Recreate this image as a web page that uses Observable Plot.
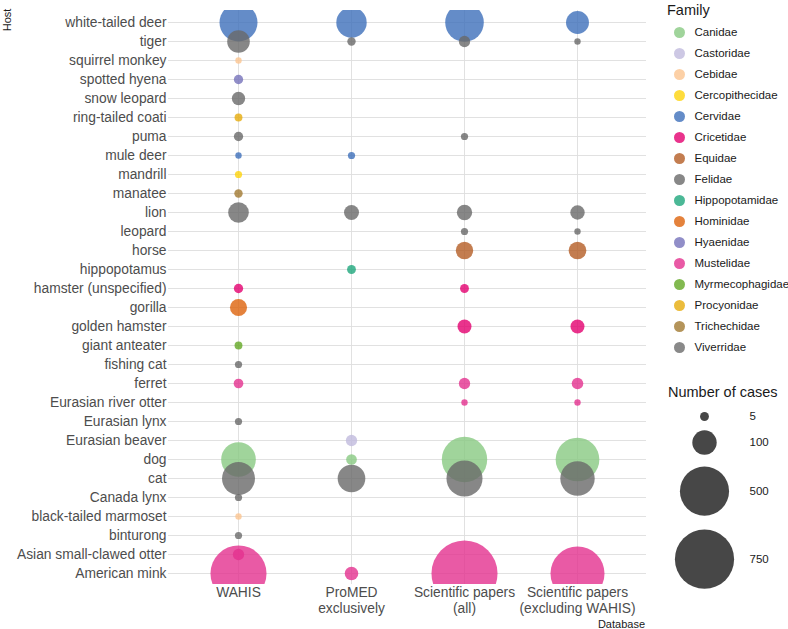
<!DOCTYPE html>
<html>
<head>
<meta charset="utf-8">
<script src="https://cdn.jsdelivr.net/npm/d3@7"></script>
<script src="https://cdn.jsdelivr.net/npm/@observablehq/plot@0.6"></script>
<style>
  html, body { margin: 0; padding: 0; background: white; }
  #wrap { position: relative; width: 788px; height: 629px; overflow: hidden; font-family: 'Liberation Sans', Arial, sans-serif; }
  .abs { position: absolute; line-height: 1; white-space: nowrap; }
</style>
</head>
<body>
<div id="wrap"></div>
<script>
// ---------- data ----------
const hosts = ["white-tailed deer","tiger","squirrel monkey","spotted hyena","snow leopard","ring-tailed coati","puma","mule deer","mandrill","manatee","lion","leopard","horse","hippopotamus","hamster (unspecified)","gorilla","golden hamster","giant anteater","fishing cat","ferret","Eurasian river otter","Eurasian lynx","Eurasian beaver","dog","cat","Canada lynx","black-tailed marmoset","binturong","Asian small-clawed otter","American mink"];
const hostFamily = ["Cervidae","Felidae","Cebidae","Hyaenidae","Felidae","Procyonidae","Felidae","Cervidae","Cercopithecidae","Trichechidae","Felidae","Felidae","Equidae","Hippopotamidae","Cricetidae","Hominidae","Cricetidae","Myrmecophagidae","Felidae","Mustelidae","Mustelidae","Felidae","Castoridae","Canidae","Felidae","Felidae","Cebidae","Viverridae","Mustelidae","Mustelidae"];
const databases = ["WAHIS","ProMED exclusively","Scientific papers (all)","Scientific papers (excluding WAHIS)"];
const databaseLabels = ["WAHIS","ProMED\nexclusively","Scientific papers\n(all)","Scientific papers\n(excluding WAHIS)"];
// cases per host (same order as hosts); null = no record
const wahis    = [282,83,1,6,20,3,6,1,2,4,66,null,null,null,6,40,null,3,2,7,null,2,null,229,204,2,1,2,12,666];
const promed   = [169,4,null,null,null,null,null,2,null,null,28,null,null,5,null,null,null,null,null,null,null,null,12,10,135,null,null,null,null,21];
const sciAll   = [292,12,null,null,null,null,2,null,null,null,30,2,42,null,5,null,23,null,null,12,1,null,null,420,250,null,null,null,null,949];
const sciExcl  = [86,1,null,null,null,null,null,null,null,null,25,1,44,null,null,null,23,null,null,13,1,null,null,386,225,null,null,null,null,615];
const families = ["Canidae","Castoridae","Cebidae","Cercopithecidae","Cervidae","Cricetidae","Equidae","Felidae","Hippopotamidae","Hominidae","Hyaenidae","Mustelidae","Myrmecophagidae","Procyonidae","Trichechidae","Viverridae"];
const familyColors = ["#88C982","#C1BADD","#FBC490","#FED30B","#3D6FBA","#E4006F","#B45C24","#696969","#1EA67C","#DD630B","#7672BA","#E4318E","#63A724","#E6AB0B","#A17931","#6B6B6B"];
const sizeBreaks = [5,100,500,750];

// ---------- table ----------
const series = [wahis, promed, sciAll, sciExcl];
let rows = [];
series.forEach((vals, j) => vals.forEach((n, i) => {
  if (n != null) rows.push({host: hosts[i], family: hostFamily[i], db: databases[j], n});
}));
rows = d3.sort(rows, d => -d.n);

const font = "'Liberation Sans', Arial, sans-serif";
const rScale = {type: "sqrt", domain: [1, 750], range: [3.2, 29.6]};
const colorScale = {domain: families, range: familyColors};

const chart = Plot.plot({
  width: 660, height: 629,
  marginLeft: 168, marginRight: 14, marginTop: 10, marginBottom: 45,
  style: {fontFamily: font, fontSize: "13.8px", color: "#4d4d4d", background: "white", overflow: "visible"},
  x: {type: "point", domain: databases, padding: 0.6, label: null},
  y: {type: "point", domain: hosts, padding: 0.6, label: null},
  r: rScale,
  color: colorScale,
  marks: [
    Plot.gridY({stroke: "#dedede", strokeOpacity: 1, strokeWidth: 0.9}),
    Plot.gridX({stroke: "#dedede", strokeOpacity: 1, strokeWidth: 0.9}),
    Plot.axisY({tickSize: 0, tickPadding: 2, fontSize: 13.8, label: null, fill: "#4d4d4d"}),
    Plot.axisX({tickSize: 0, tickPadding: 2, fontSize: 13.8, label: null, fill: "#4d4d4d", lineHeight: 1.12,
      tickFormat: d => databaseLabels[databases.indexOf(d)]}),
    Plot.dot(rows, {x: "db", y: "host", r: "n", fill: "family", fillOpacity: 0.8, clip: true})
  ]
});

const wrap = document.getElementById("wrap");
chart.style.position = "absolute";
chart.style.left = "0px";
chart.style.top = "0px";
wrap.appendChild(chart);

// ---------- family legend ----------
const famLegend = Plot.plot({
  width: 133, height: 360,
  marginTop: 31, marginBottom: 12, marginLeft: 24, marginRight: 9,
  style: {fontFamily: font, background: "transparent", overflow: "visible"},
  x: {domain: [0, 1], axis: null},
  y: {type: "point", domain: families, padding: 0, axis: null},
  color: colorScale,
  marks: [
    Plot.dot(families, {x: () => 0, y: d => d, fill: d => d, r: 5.5, fillOpacity: 0.8}),
    Plot.text(families, {x: () => 0, y: d => d, text: d => d, dx: 15, textAnchor: "start", fontSize: 11.5, fill: "#1a1a1a"})
  ]
});
famLegend.style.position = "absolute";
famLegend.style.left = "655px";
famLegend.style.top = "0px";
wrap.appendChild(famLegend);

// ---------- size legend ----------
const rs = chart.scale("r");
const keyY = [];
sizeBreaks.forEach((v, i) => {
  if (i === 0) keyY.push(16);
  else keyY.push(keyY[i - 1] + 1.12 * (rs.apply(sizeBreaks[i - 1]) + rs.apply(v)) + 7.4);
});
const sizeRows = sizeBreaks.map((v, i) => ({v, y: keyY[i]}));
const sizeLegend = Plot.plot({
  width: 133, height: 229,
  marginTop: 0, marginBottom: 0, marginLeft: 49, marginRight: 0,
  style: {fontFamily: font, background: "transparent", overflow: "visible"},
  x: {domain: [0, 1], range: [49, 133], axis: null},
  y: {type: "identity", axis: null},
  r: rScale,
  marks: [
    Plot.dot(sizeRows, {x: () => 0, y: "y", r: "v", fill: "#333333", fillOpacity: 0.9}),
    Plot.text(sizeRows, {x: () => 0, y: "y", text: d => String(d.v), dx: 45, textAnchor: "start", fontSize: 11.5, fill: "#1a1a1a"})
  ]
});
sizeLegend.style.position = "absolute";
sizeLegend.style.left = "655px";
sizeLegend.style.top = "400px";
wrap.appendChild(sizeLegend);

// ---------- titles ----------
function addText(txt, css) {
  const d = document.createElement("div");
  d.className = "abs";
  d.textContent = txt;
  Object.assign(d.style, css);
  wrap.appendChild(d);
}
addText("Family", {left: "667px", top: "3px", fontSize: "14.5px", color: "#1a1a1a"});
addText("Number of cases", {left: "668px", top: "385px", fontSize: "14.5px", color: "#1a1a1a"});
addText("Host", {left: "6.5px", top: "20px", fontSize: "11px", color: "#1a1a1a", transform: "translate(-50%,-50%) rotate(-90deg)"});
addText("Database", {right: "143px", top: "618.5px", fontSize: "11px", color: "#1a1a1a"});
</script>
</body>
</html>
